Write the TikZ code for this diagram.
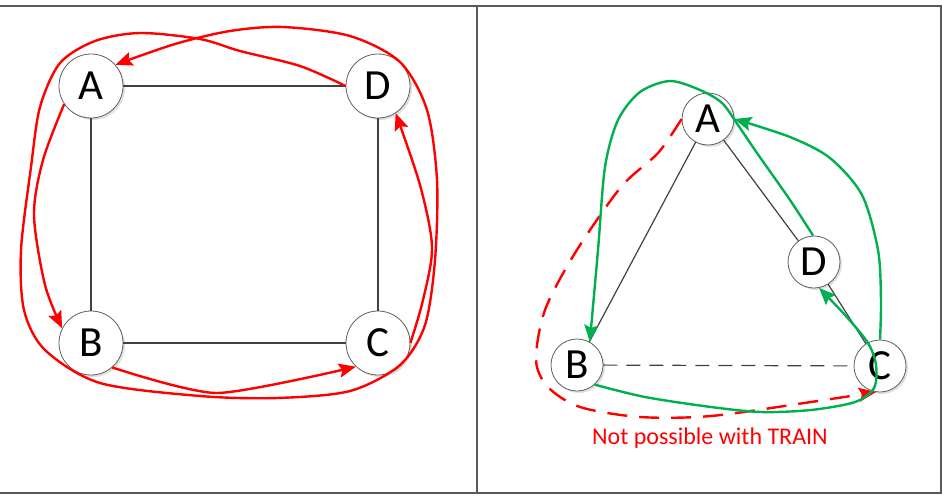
\documentclass[tikz,border=0pt]{standalone}
\usepackage{fontspec}
\setmainfont{Carlito}
\usepackage{tikz}
\usetikzlibrary{arrows.meta}
\usetikzlibrary{shadows}

\definecolor{trainred}{RGB}{255,0,0}
\definecolor{routegreen}{RGB}{0,176,80}
\definecolor{linkgray}{RGB}{64,64,64}
\definecolor{framegray}{RGB}{90,90,90}

\tikzset{
  station/.style={circle,draw=gray!75!black,line width=0.8pt,fill=white,inner sep=0pt,
    drop shadow={shadow xshift=2pt,shadow yshift=-2pt,opacity=0.25},
    font=\fontsize{43}{43}\selectfont},
  bigstation/.style={station,minimum size=64pt},
  smallstation/.style={station,minimum size=52pt},
  link/.style={draw=linkgray,line width=1.3pt},
  route/.style={line width=2.4pt,-{Stealth[length=17pt,width=14pt,inset=3pt]}},
  redroute/.style={route,draw=trainred},
  greenroute/.style={route,draw=routegreen},
}

\begin{document}
\begin{tikzpicture}[x=1pt,y=-1pt]
\useasboundingbox (0,0) rectangle (942,496);
\draw[framegray,line width=1.2pt] (0,6) -- (941,6) -- (941,493) -- (0,493);
\draw[framegray,line width=1.2pt] (477,6) -- (477,493);

\node[bigstation] (lA) at (91,86) {A};
\node[bigstation] (lD) at (378,86) {D};
\node[bigstation] (lB) at (91,343) {B};
\node[bigstation] (lC) at (378,343) {C};
\draw[link] (lA) -- (lD);
\draw[link] (lA) -- (lB);
\draw[link] (lB) -- (lC);
\draw[link] (lD) -- (lC);

\draw[redroute] plot[smooth] coordinates {(lA.214) (43,160) (34,215) (45,285) (lB.153)};
\draw[redroute] plot[smooth,tension=0.4] coordinates {(lB.311) (217,393) (lC.227)};
\draw[redroute] plot[smooth] coordinates {(lC.0) (423,300) (432,247) (420,185) (lD.303)};
\draw[redroute] plot[smooth] coordinates {(lD.180) (300,66) (240,51) (200,39) (140,33) (95,41)
  (60,63) (40,107) (31,167) (21,250) (24,310) (45,350) (100,383) (200,396) (277,398) (350,391)
  (400,365) (425,325) (435,260) (437,180) (427,110) (400,62) (350,36) (283,27) (230,31)
  (175,44) (lA.41)};

\node[smallstation] (rA) at (708,119) {A};
\node[smallstation] (rD) at (814,262) {D};
\node[smallstation] (rB) at (577,365) {B};
\node[smallstation] (rC) at (880,366) {C};
\draw[link,line width=1.2pt] (rA) -- (rB);
\draw[link,line width=1.2pt] (rA) -- (rD);
\draw[link,line width=1.2pt] (rD) -- (rC);
\draw[link,line width=1.2pt,dash pattern=on 14pt off 9pt] (rB) -- (rC);

\draw[redroute,dash pattern=on 20pt off 12pt] plot[smooth] coordinates {(rA.180) (658,153)
  (621,187) (575,253) (545,310) (536,360) (548,387) (580,407) (640,417) (711,416) (811,402)
  (rC.261)};
\draw[greenroute] plot[smooth] coordinates {(rD.92) (790,200) (757,153) (738,125) (722,103)
  (700,90) (670,81) (640,92) (618,120) (605,167) (598,250) (rB.61)};
\draw[greenroute] plot[smooth] coordinates {(rC.90) (881,300) (878,250) (862,195) (830,158)
  (790,137) (rA.0)};
\draw[greenroute] plot[smooth] coordinates {(rB.312) (645,397) (711,407) (761,412) (811,410)
  (855,402) (874,388) (876,365) (868,343) (845,315) (rD.281)};

\node[trainred,font=\fontsize{24}{24}\selectfont,anchor=base] (note) at (710,444)
  {Not possible with TRAIN};
\end{tikzpicture}
\end{document}
